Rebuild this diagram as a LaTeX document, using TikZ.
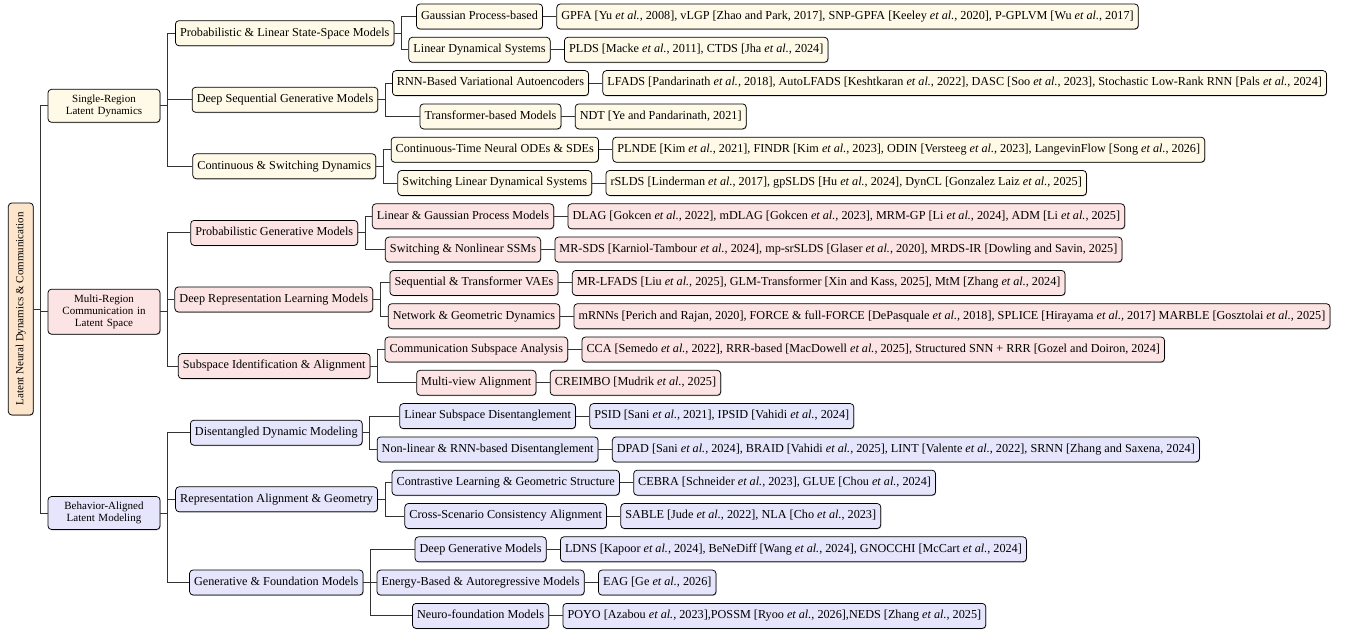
\documentclass[tikz,border=0pt]{standalone}
\usepackage{fontspec}
\setmainfont{Liberation Serif}
\usetikzlibrary{positioning,shadows}

\definecolor{rootfill}{RGB}{253,229,204}
\definecolor{srfill}{RGB}{255,250,232}
\definecolor{mrfill}{RGB}{253,228,228}
\definecolor{bafill}{RGB}{229,229,251}
\newcommand{\etal}{\textit{et al.}}

\tikzset{
  kasten/.style={draw=black, rounded corners=3.5pt, line width=0.75pt,
    drop shadow={shadow xshift=0.6pt, shadow yshift=-0.8pt, fill=black!55}},
  blatt/.style={kasten, inner xsep=4.6pt, inner ysep=0pt, minimum height=25pt,
    text height=8.4pt, text depth=2.7pt, font=\fontsize{12.2}{14}\selectfont},
  haupt/.style={kasten, align=center, text width=100pt, inner xsep=6pt, inner ysep=5.5pt,
    font=\fontsize{11}{12}\selectfont},
  wurzel/.style={kasten, rotate=90, minimum width=212pt, minimum height=25pt, inner sep=0pt,
    font=\fontsize{11}{12}\selectfont, fill=rootfill},
  ast/.style={draw=black!80, line width=0.85pt},
  leaf/.style={blatt, right=13.5pt of #1, anchor=west}
}

\begin{document}
\begin{tikzpicture}[x=1pt, y=-1pt]
  \useasboundingbox (0,0) rectangle (1353,631);

  % Wurzel
  \node[wurzel] (root) at (20.8,309) {Latent Neural Dynamics \& Communication};

  % Ebene 1
  \node[haupt, fill=srfill] (sr) at (104,105.8) {Single-Region\\Latent Dynamics};
  \node[haupt, fill=mrfill] (mr) at (104,311.7) {Multi-Region\\Communication in\\Latent Space};
  \node[haupt, fill=bafill] (ba) at (104,513) {Behavior-Aligned\\Latent Modeling};

  % Ebene 2
  \begin{scope}[every node/.style={blatt}]
    \node[fill=srfill] (psl) at (284.7,33.2) {Probabilistic \& Linear State-Space Models};
    \node[fill=srfill] (dsg) at (285,99.8) {Deep Sequential Generative Models};
    \node[fill=srfill] (csd) at (284.3,166.3) {Continuous \& Switching Dynamics};
    \node[fill=mrfill] (pgm) at (274.2,232.9) {Probabilistic Generative Models};
    \node[fill=mrfill] (drl) at (273.8,299.5) {Deep Representation Learning Models};
    \node[fill=mrfill] (sia) at (274.2,366.1) {Subspace Identification \& Alignment};
    \node[fill=bafill] (ddm) at (276.3,432.7) {Disentangled Dynamic Modeling};
    \node[fill=bafill] (rag) at (276.6,499.3) {Representation Alignment \& Geometry};
    \node[fill=bafill] (gfm) at (276.3,582.5) {Generative \& Foundation Models};
  \end{scope}

  % Ebene 3
  \begin{scope}[every node/.style={blatt}]
    \node[fill=srfill] (gpb) at (479.5,16.5) {Gaussian Process-based};
    \node[fill=srfill] (lds) at (479.5,49.8) {Linear Dynamical Systems};
    \node[fill=srfill] (rvae) at (490.5,83.1) {RNN-Based Variational Autoencoders};
    \node[fill=srfill] (trf) at (490.5,116.4) {Transformer-based Models};
    \node[fill=srfill] (code) at (494.8,149.7) {Continuous-Time Neural ODEs \& SDEs};
    \node[fill=srfill] (slds) at (494.8,183) {Switching Linear Dynamical Systems};
    \node[fill=mrfill] (lgp) at (463,216.3) {Linear \& Gaussian Process Models};
    \node[fill=mrfill] (sns) at (463,249.6) {Switching \& Nonlinear SSMs};
    \node[fill=mrfill] (stv) at (474,282.9) {Sequential \& Transformer VAEs};
    \node[fill=mrfill] (ngd) at (474,316.2) {Network \& Geometric Dynamics};
    \node[fill=mrfill] (csa) at (476.3,349.5) {Communication Subspace Analysis};
    \node[fill=mrfill] (mva) at (476.3,382.8) {Multi-view Alignment};
    \node[fill=bafill] (lsd) at (487.6,416.1) {Linear Subspace Disentanglement};
    \node[fill=bafill] (nrd) at (487.6,449.4) {Non-linear \& RNN-based Disentanglement};
    \node[fill=bafill] (clg) at (505.7,482.7) {Contrastive Learning \& Geometric Structure};
    \node[fill=bafill] (csc) at (505.7,516) {Cross-Scenario Consistency Alignment};
    \node[fill=bafill] (dgm) at (480.6,549.3) {Deep Generative Models};
    \node[fill=bafill] (eba) at (480.6,582.6) {Energy-Based \& Autoregressive Models};
    \node[fill=bafill] (nfm) at (480.6,615.9) {Neuro-foundation Models};
  \end{scope}

  % Blaetter (Literatur)
  \node[leaf=gpb, fill=srfill] (gpfa) {GPFA [Yu \etal, 2008], vLGP [Zhao and Park, 2017], SNP-GPFA [Keeley \etal, 2020], P-GPLVM [Wu \etal, 2017]};
  \node[leaf=lds, fill=srfill] (plds) {PLDS [Macke \etal, 2011], CTDS [Jha \etal, 2024]};
  \node[leaf=rvae, fill=srfill] (lfads) {LFADS [Pandarinath \etal, 2018], AutoLFADS [Keshtkaran \etal, 2022], DASC [Soo \etal, 2023], Stochastic Low-Rank RNN [Pals \etal, 2024]};
  \node[leaf=trf, fill=srfill] (ndt) {NDT [Ye and Pandarinath, 2021]};
  \node[leaf=code, fill=srfill] (plnde) {PLNDE [Kim \etal, 2021], FINDR [Kim \etal, 2023], ODIN [Versteeg \etal, 2023], LangevinFlow [Song \etal, 2026]};
  \node[leaf=slds, fill=srfill] (rslds) {rSLDS [Linderman \etal, 2017], gpSLDS [Hu \etal, 2024], DynCL [Gonzalez Laiz \etal, 2025]};
  \node[leaf=lgp, fill=mrfill] (dlag) {DLAG [Gokcen \etal, 2022], mDLAG [Gokcen \etal, 2023], MRM-GP [Li \etal, 2024], ADM [Li \etal, 2025]};
  \node[leaf=sns, fill=mrfill] (mrsds) {MR-SDS [Karniol-Tambour \etal, 2024], mp-srSLDS [Glaser \etal, 2020], MRDS-IR [Dowling and Savin, 2025]};
  \node[leaf=stv, fill=mrfill] (mrlfads) {MR-LFADS [Liu \etal, 2025], GLM-Transformer [Xin and Kass, 2025], MtM [Zhang \etal, 2024]};
  \node[leaf=ngd, fill=mrfill] (mrnn) {mRNNs [Perich and Rajan, 2020], FORCE \& full-FORCE [DePasquale \etal, 2018], SPLICE [Hirayama \etal, 2017] MARBLE [Gosztolai \etal, 2025]};
  \node[leaf=csa, fill=mrfill] (cca) {CCA [Semedo \etal, 2022], RRR-based [MacDowell \etal, 2025], Structured SNN + RRR [Gozel and Doiron, 2024]};
  \node[leaf=mva, fill=mrfill] (creimbo) {CREIMBO [Mudrik \etal, 2025]};
  \node[leaf=lsd, fill=bafill] (psid) {PSID [Sani \etal, 2021], IPSID [Vahidi \etal, 2024]};
  \node[leaf=nrd, fill=bafill] (dpad) {DPAD [Sani \etal, 2024], BRAID [Vahidi \etal, 2025], LINT [Valente \etal, 2022], SRNN [Zhang and Saxena, 2024]};
  \node[leaf=clg, fill=bafill] (cebra) {CEBRA [Schneider \etal, 2023], GLUE [Chou \etal, 2024]};
  \node[leaf=csc, fill=bafill] (sable) {SABLE [Jude \etal, 2022], NLA [Cho \etal, 2023]};
  \node[leaf=dgm, fill=bafill] (ldns) {LDNS [Kapoor \etal, 2024], BeNeDiff [Wang \etal, 2024], GNOCCHI [McCart \etal, 2024]};
  \node[leaf=eba, fill=bafill] (eag) {EAG [Ge \etal, 2026]};
  \node[leaf=nfm, fill=bafill] (poyo) {POYO [Azabou \etal, 2023],POSSM [Ryoo \etal, 2026],NEDS [Zhang \etal, 2025]};

  % Verbindungen (Gabeln)
  \begin{scope}[on background layer/.try]
  \foreach \c in {sr,mr,ba} \draw[ast] (root.south) -- ++(7,0) |- (\c.west);
  \foreach \c in {psl,dsg,csd} \draw[ast] (sr.east) -- ++(7,0) |- (\c.west);
  \foreach \c in {pgm,drl,sia} \draw[ast] (mr.east) -- ++(7,0) |- (\c.west);
  \foreach \c in {ddm,rag,gfm} \draw[ast] (ba.east) -- ++(7,0) |- (\c.west);
  \foreach \p/\a/\b in {psl/gpb/lds, dsg/rvae/trf, csd/code/slds, pgm/lgp/sns, drl/stv/ngd, sia/csa/mva, ddm/lsd/nrd, rag/clg/csc}
    \draw[ast] (\a.west) -| ([xshift=7pt]\p.east) |- (\b.west) (\p.east) -- ++(7,0);
  \foreach \c in {dgm,eba,nfm} \draw[ast] (gfm.east) -- ++(7,0) |- (\c.west);
  \foreach \a/\b in {gpb/gpfa, lds/plds, rvae/lfads, trf/ndt, code/plnde, slds/rslds, lgp/dlag, sns/mrsds, stv/mrlfads, ngd/mrnn, csa/cca, mva/creimbo, lsd/psid, nrd/dpad, clg/cebra, csc/sable, dgm/ldns, eba/eag, nfm/poyo}
    \draw[ast] (\a.east) -- (\b.west);
  \end{scope}
\end{tikzpicture}
\end{document}
